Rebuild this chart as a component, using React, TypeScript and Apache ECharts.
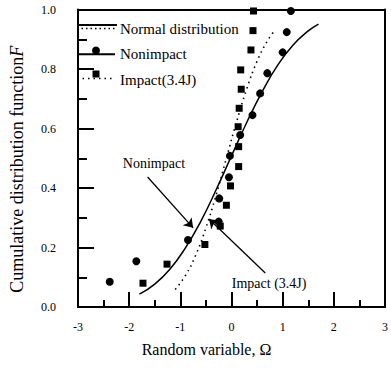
import React, { useEffect, useRef } from "react";
import * as echarts from "echarts";

const nonimpactX = [-2.38, -1.86, -0.85, -0.25, -0.24, -0.05, -0.03, 0.17, 0.41, 0.56, 0.7, 1.0, 1.08, 1.16];
const nonimpactF = [0.085, 0.154, 0.225, 0.287, 0.365, 0.436, 0.508, 0.578, 0.645, 0.718, 0.786, 0.856, 0.924, 0.995];

const impactX = [-1.73, -1.26, -0.52, -0.22, -0.1, -0.02, 0.14, 0.14, 0.13, 0.15, 0.19, 0.18, 0.38, 0.42, 0.43];
const impactF = [0.08, 0.144, 0.21, 0.272, 0.342, 0.407, 0.472, 0.539, 0.606, 0.668, 0.732, 0.797, 0.864, 0.929, 0.995];

// Fitted normal distribution curves
const normalNonX = [-1.8, -1.5, -1.2, -0.9, -0.6, -0.3, 0, 0.3, 0.6, 0.9, 1.2, 1.5, 1.7];
const normalNonF = [0.043, 0.077, 0.128, 0.199, 0.288, 0.394, 0.508, 0.621, 0.724, 0.812, 0.88, 0.928, 0.951];

const normalImpX = [-1.1, -0.9, -0.7, -0.5, -0.3, -0.1, 0.1, 0.3, 0.5, 0.7, 0.85];
const normalImpF = [0.059, 0.106, 0.174, 0.266, 0.377, 0.5, 0.623, 0.734, 0.826, 0.894, 0.931];

// Axis ticks
const xTicks = [-3, -2, -1, 0, 1, 2, 3];
const yTicks = [0, 0.2, 0.4, 0.6, 0.8, 1.0];

// Annotations (data coordinates)
const nonArrow = [[-1.64, 0.437], [-0.75, 0.266]];
const nonLabel = [-1.515, 0.484];
const impArrow = [[-0.44, 0.296], [0.66, 0.114]];
const impLabel = [0.735, 0.08];

const FONT = "Liberation Serif";
const zip = (xs: number[], ys: number[]) => xs.map((x, i) => [x, ys[i]]);

export default function App() {
  const ref = useRef<HTMLDivElement>(null);
  useEffect(() => {
    if (!ref.current) return;
    const chart = echarts.init(ref.current, undefined, { renderer: "svg" });
    const axisLineStyle = { color: "#000000", width: 2 };
    const tickStyle = { color: "#000000", width: 2 };
    chart.setOption({
      animation: false,
      backgroundColor: "#ffffff",
      grid: {
        left: 74,
        right: 1,
        top: 9.5,
        bottom: 65,
        show: false,
      },
      xAxis: [
        {
          type: "value",
          position: "bottom",
          min: xTicks[0],
          max: xTicks[xTicks.length - 1],
          interval: 1,
          axisLine: { show: true, onZero: false, lineStyle: axisLineStyle },
          axisTick: { show: true, inside: true, length: 15, lineStyle: tickStyle },
          minorTick: { show: true, splitNumber: 2, length: 7, lineStyle: tickStyle },
          splitLine: { show: false },
          minorSplitLine: { show: false },
          axisLabel: { color: "#000", fontFamily: FONT, fontSize: 12, margin: 14 },
          name: "Random variable, Ω",
          nameLocation: "middle",
          nameGap: 34,
          nameTextStyle: { color: "#000", fontFamily: FONT, fontSize: 16, padding: [0, 50, 0, 0] },
        },
        {
          type: "value",
          position: "top",
          min: xTicks[0],
          max: xTicks[xTicks.length - 1],
          interval: 1,
          axisLine: { show: true, onZero: false, lineStyle: axisLineStyle },
          axisTick: { show: false },
          axisLabel: { show: false },
          splitLine: { show: false },
        },
      ],
      yAxis: [
        {
          type: "value",
          position: "left",
          min: yTicks[0],
          max: yTicks[yTicks.length - 1],
          interval: 0.2,
          axisLine: { show: true, onZero: false, lineStyle: axisLineStyle },
          axisTick: { show: true, inside: true, length: 16, lineStyle: tickStyle },
          minorTick: { show: true, splitNumber: 2, length: 9, lineStyle: tickStyle },
          splitLine: { show: false },
          minorSplitLine: { show: false },
          axisLabel: {
            color: "#000",
            fontFamily: FONT,
            fontSize: 12,
            margin: 22,
            formatter: (v: number) => v.toFixed(1),
          },
          name: "Cumulative distribution function{f|F}",
          nameLocation: "middle",
          nameGap: 52,
          nameTextStyle: {
            color: "#000",
            fontFamily: FONT,
            fontSize: 18,
            padding: [0, 22, 0, 0],
            rich: { f: { fontStyle: "italic", fontFamily: FONT, fontSize: 18, color: "#000" } },
          },
        },
        {
          type: "value",
          position: "right",
          min: yTicks[0],
          max: yTicks[yTicks.length - 1],
          interval: 0.2,
          axisLine: { show: true, onZero: false, lineStyle: axisLineStyle },
          axisTick: { show: false },
          axisLabel: { show: false },
          splitLine: { show: false },
        },
      ],
      series: [
        {
          name: "Normal distribution (nonimpact)",
          type: "line",
          data: zip(normalNonX, normalNonF),
          smooth: true,
          showSymbol: false,
          lineStyle: { color: "#000", width: 1.5 },
          markLine: {
            silent: true,
            symbol: ["none", "arrow"],
            symbolSize: 9,
            label: { show: false },
            lineStyle: { color: "#000", width: 1.3, type: "solid" },
            data: [[{ coord: nonArrow[0] }, { coord: nonArrow[1] }]],
          },
          markPoint: {
            silent: true,
            symbol: "circle",
            symbolSize: 0,
            label: {
              show: true,
              position: "inside",
              color: "#000",
              fontFamily: FONT,
              fontSize: 14,
              formatter: "Nonimpact",
            },
            data: [{ coord: nonLabel }],
          },
        },
        {
          name: "Normal distribution (impact)",
          type: "line",
          data: zip(normalImpX, normalImpF),
          smooth: true,
          showSymbol: false,
          lineStyle: { color: "#000", width: 1.6, type: [1.5, 4] },
          markLine: {
            silent: true,
            symbol: ["arrow", "none"],
            symbolSize: 9,
            label: { show: false },
            lineStyle: { color: "#000", width: 1.3, type: "solid" },
            data: [[{ coord: impArrow[0] }, { coord: impArrow[1] }]],
          },
          markPoint: {
            silent: true,
            symbol: "circle",
            symbolSize: 0,
            label: {
              show: true,
              position: "inside",
              color: "#000",
              fontFamily: FONT,
              fontSize: 14,
              formatter: "Impact (3.4J)",
            },
            data: [{ coord: impLabel }],
          },
        },
        {
          name: "Nonimpact",
          type: "scatter",
          data: zip(nonimpactX, nonimpactF),
          symbol: "circle",
          symbolSize: 8,
          itemStyle: { color: "#000", opacity: 1 },
        },
        {
          name: "Impact(3.4J)",
          type: "scatter",
          data: zip(impactX, impactF),
          symbol: "rect",
          symbolSize: 7,
          itemStyle: { color: "#000", opacity: 1 },
        },
      ],
      graphic: [
        { type: "rect", shape: { x: 77, y: 24, width: 40, height: 2 }, style: { fill: "#000" } },
        { type: "polyline", shape: { points: [[77, 28.5], [117, 28.5]] }, style: { stroke: "#000", fill: null, lineWidth: 1.5, lineDash: [1.5, 3] } },
        { type: "text", x: 120, y: 29, style: { text: "Normal distribution", fontFamily: FONT, fontSize: 15, fill: "#000", verticalAlign: "middle" } },
        { type: "rect", shape: { x: 77, y: 53.3, width: 38, height: 2 }, style: { fill: "#000" } },
        { type: "circle", shape: { cx: 96, cy: 50.5, r: 4 }, style: { fill: "#000" } },
        { type: "text", x: 120, y: 54, style: { text: "Nonimpact", fontFamily: FONT, fontSize: 15, fill: "#000", verticalAlign: "middle" } },
        { type: "polyline", shape: { points: [[77, 78.5], [115, 78.5]] }, style: { stroke: "#000", fill: null, lineWidth: 1.5, lineDash: [1.5, 4] } },
        { type: "rect", shape: { x: 92.5, y: 70.5, width: 7, height: 7 }, style: { fill: "#000" } },
        { type: "text", x: 120, y: 80, style: { text: "Impact(3.4J)", fontFamily: FONT, fontSize: 15, fill: "#000", verticalAlign: "middle" } },
      ],
    });
    return () => chart.dispose();
  }, []);
  return (
    <div
      ref={ref}
      style={{ position: "fixed", left: 0, top: 0, width: 391, height: 372, background: "#fff" }}
    />
  );
}
